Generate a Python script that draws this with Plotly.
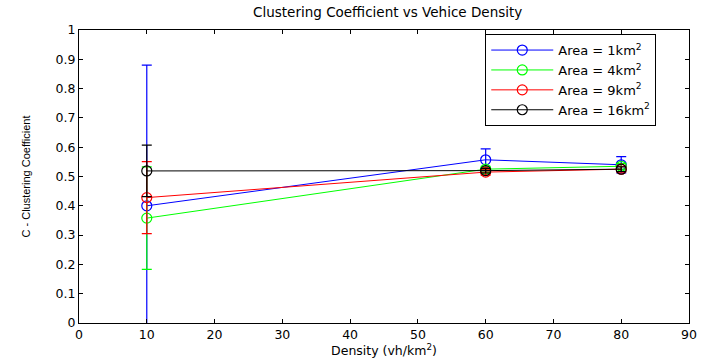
import plotly.graph_objects as go

density = [10, 60, 80]
series_names = ["Area = 1km<sup>2</sup>", "Area = 4km<sup>2</sup>", "Area = 9km<sup>2</sup>", "Area = 16km<sup>2</sup>"]
colors = ["#0000ff", "#00ff00", "#ff0000", "#000000"]
c_1km = [0.40, 0.557, 0.540]
c_4km = [0.358, 0.525, 0.535]
c_9km = [0.428, 0.515, 0.525]
c_16km = [0.519, 0.520, 0.525]
err_1km = [0.48, 0.037, 0.028]
err_4km = [0.175, 0.010, 0.010]
err_9km = [0.123, 0.010, 0.010]
err_16km = [0.088, 0.008, 0.008]

values = [c_1km, c_4km, c_9km, c_16km]
errors = [err_1km, err_4km, err_9km, err_16km]

WIDE = "DejaVu Sans, Verdana, sans-serif"
NARROW = "Liberation Sans, Arial, Helvetica, sans-serif"

fig = go.Figure()
for name, col, v, e in zip(series_names, colors, values, errors):
    fig.add_trace(go.Scatter(
        x=density, y=v, name=name, mode="lines+markers",
        line=dict(color=col, width=1),
        marker=dict(symbol="circle-open", size=10, color=col, line=dict(width=1.2, color=col)),
        error_y=dict(type="data", array=e, visible=True, color=col, thickness=1.2, width=5),
        cliponaxis=True,
    ))

fig.update_layout(
    width=710, height=358,
    margin=dict(l=79, r=21, t=30, b=35, autoexpand=False),
    paper_bgcolor="white", plot_bgcolor="white",
    font=dict(family=WIDE, size=11, color="#000000"),
    title=dict(text="Clustering Coefficient vs Vehice Density", x=0.546, xanchor="center",
               y=0.978, yanchor="top", yref="container", font=dict(size=13.5, family=WIDE)),
    showlegend=True,
    legend=dict(x=0.666, y=0.986, xanchor="left", yanchor="top",
                bordercolor="#000000", borderwidth=1, bgcolor="white",
                font=dict(size=13, family=WIDE), itemwidth=62,
                tracegroupgap=0),
)
fig.update_xaxes(
    range=[0, 90], tickmode="array", tickvals=list(range(0, 91, 10)),
    ticks="inside", ticklen=4, tickcolor="#000000",
    showline=True, linecolor="#000000", linewidth=1, mirror="allticks",
    showgrid=False, zeroline=False, automargin=False,
    tickfont=dict(size=12.5, family=WIDE),
    title=dict(text="Density (vh/km<sup>2</sup>)", standoff=0, font=dict(size=12.5, family=WIDE)),
)
fig.update_yaxes(
    range=[0, 1], tickmode="array", tickvals=[i / 10 for i in range(11)],
    ticktext=["0", "0.1", "0.2", "0.3", "0.4", "0.5", "0.6", "0.7", "0.8", "0.9", "1"],
    ticks="inside", ticklen=4, tickcolor="#000000",
    showline=True, linecolor="#000000", linewidth=1, mirror="allticks",
    showgrid=False, zeroline=False, automargin=False,
    tickfont=dict(size=12.5, family=WIDE),
    title=dict(text="C - Clustering Coefficient", standoff=22, font=dict(size=11, family=NARROW)),
)

fig.write_html("out.html", config={"displayModeBar": False},
               post_script="document.body.style.margin='0';document.body.style.overflow='hidden';")
